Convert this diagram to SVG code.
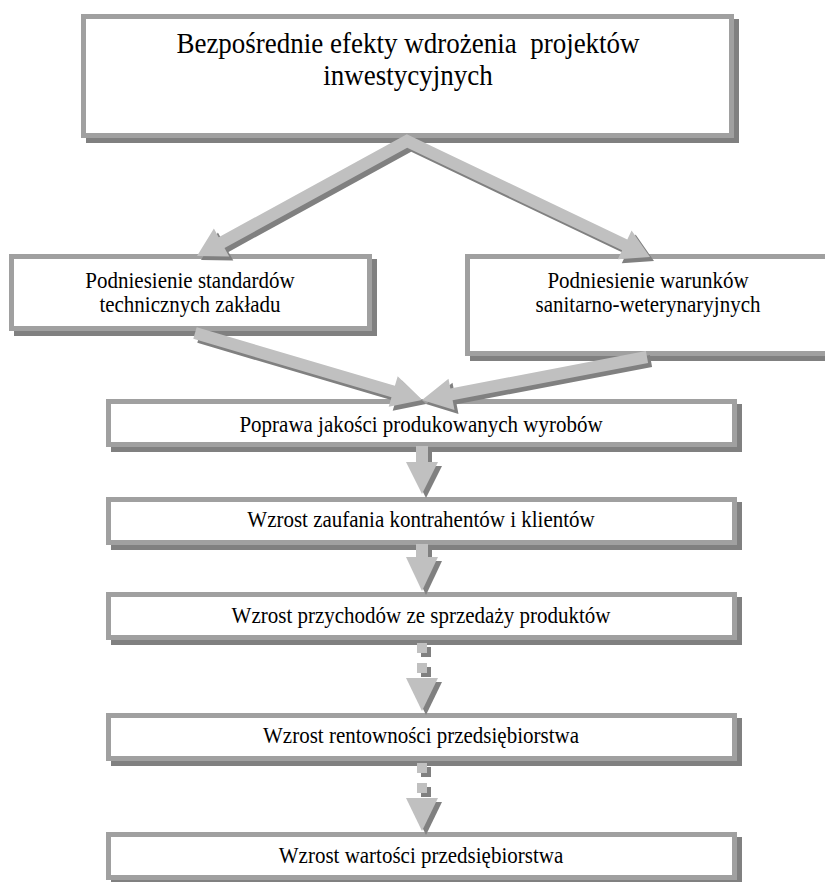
<svg xmlns="http://www.w3.org/2000/svg" xmlns:xlink="http://www.w3.org/1999/xlink" width="825" height="882" viewBox="0 0 825 882">
  <style>
    .shadow { fill: #808080; stroke: none; }
    .box { fill: #ffffff; stroke: #a0a0a0; stroke-width: 5; }
    .t { font-family: "Liberation Serif", "Times New Roman", serif; font-size: 21px; fill: #000000; text-anchor: middle; white-space: pre; }
    .title { font-size: 27px; }
    .arrow { fill: #c0c0c0; stroke: none; }
    .arrowShadow { fill: #808080; stroke: none; }
  </style>
  <defs>
    <g id="arrowShapes">
      <polygon points="406.8,134.2 218.7,237.3 213.9,228.6 197,256 229.3,256.6 224.5,247.9 407.2,147.8 622.1,250.3 617.8,259.3 650,257 631.6,230.5 627.3,239.5"/>
      <polygon points="196.7,327.3 394.9,385.8 397.7,376.2 422,400 388.7,406.8 391.5,397.3 193.3,338.8"/>
      <polygon points="645.9,351.1 450.4,388.5 448.5,378.7 422,400 454.5,410.1 452.6,400.3 648.1,362.9"/>
      <rect x="416" y="446" width="12" height="17"/>
      <polygon points="406,462 438,462 422,494"/>
      <rect x="416" y="544" width="12" height="14"/>
      <polygon points="406,557 438,557 422,591"/>
      <rect x="417" y="643" width="10" height="10"/>
      <rect x="417" y="663" width="10" height="10"/>
      <polygon points="406,678 438,678 422,711"/>
      <rect x="417" y="763" width="10" height="10"/>
      <rect x="417" y="783" width="10" height="10"/>
      <polygon points="406,798 438,798 422,831"/>
    </g>
  </defs>
  <rect width="825" height="882" fill="#ffffff"/>

  <g id="node-top">
    <rect class="shadow" x="86" y="19" width="653" height="124"/>
    <rect class="box" x="83.5" y="16.5" width="648" height="119"/>
    <text class="t title" transform="translate(408,53) scale(1,1.1)">Bezpośrednie efekty wdrożenia  projektów</text>
    <text class="t title" transform="translate(408,85) scale(1,1.1)">inwestycyjnych</text>
  </g>

  <g id="node-standardy">
    <rect class="shadow" x="14" y="259" width="363" height="77"/>
    <rect class="box" x="11.5" y="256.5" width="358" height="72"/>
    <text class="t" transform="translate(190,288) scale(1,1.1)">Podniesienie standardów</text>
    <text class="t" transform="translate(190,312) scale(1,1.1)">technicznych zakładu</text>
  </g>

  <g id="node-warunki">
    <rect class="shadow" x="470" y="259" width="370" height="102"/>
    <rect class="box" x="467.5" y="256.5" width="365" height="97"/>
    <text class="t" transform="translate(648,288) scale(1,1.1)">Podniesienie warunków</text>
    <text class="t" transform="translate(648,312) scale(1,1.1)">sanitarno-weterynaryjnych</text>
  </g>

  <g id="node-jakosc">
    <rect class="shadow" x="111" y="404" width="631" height="48"/>
    <rect class="box" x="108.5" y="401.5" width="626" height="43"/>
    <text class="t" transform="translate(421,432) scale(1,1.1)">Poprawa jakości produkowanych wyrobów</text>
  </g>

  <g id="node-zaufanie">
    <rect class="shadow" x="111" y="502" width="631" height="48"/>
    <rect class="box" x="108.5" y="499.5" width="626" height="43"/>
    <text class="t" transform="translate(421,527) scale(1,1.1)">Wzrost zaufania kontrahentów i klientów</text>
  </g>

  <g id="node-przychody">
    <rect class="shadow" x="111" y="597" width="631" height="48"/>
    <rect class="box" x="108.5" y="594.5" width="626" height="43"/>
    <text class="t" transform="translate(421,623) scale(1,1.1)">Wzrost przychodów ze sprzedaży produktów</text>
  </g>

  <g id="node-rentownosc">
    <rect class="shadow" x="111" y="718" width="631" height="48"/>
    <rect class="box" x="108.5" y="715.5" width="626" height="43"/>
    <text class="t" transform="translate(421,743) scale(1,1.1)">Wzrost rentowności przedsiębiorstwa</text>
  </g>

  <g id="node-wartosc">
    <rect class="shadow" x="111" y="837" width="631" height="48"/>
    <rect class="box" x="108.5" y="834.5" width="626" height="43"/>
    <text class="t" transform="translate(421,863) scale(1,1.1)">Wzrost wartości przedsiębiorstwa</text>
  </g>

  <g id="connectors">
    <use xlink:href="#arrowShapes" class="arrowShadow" transform="translate(4,4)"/>
    <use xlink:href="#arrowShapes" class="arrow"/>
  </g>
</svg>
